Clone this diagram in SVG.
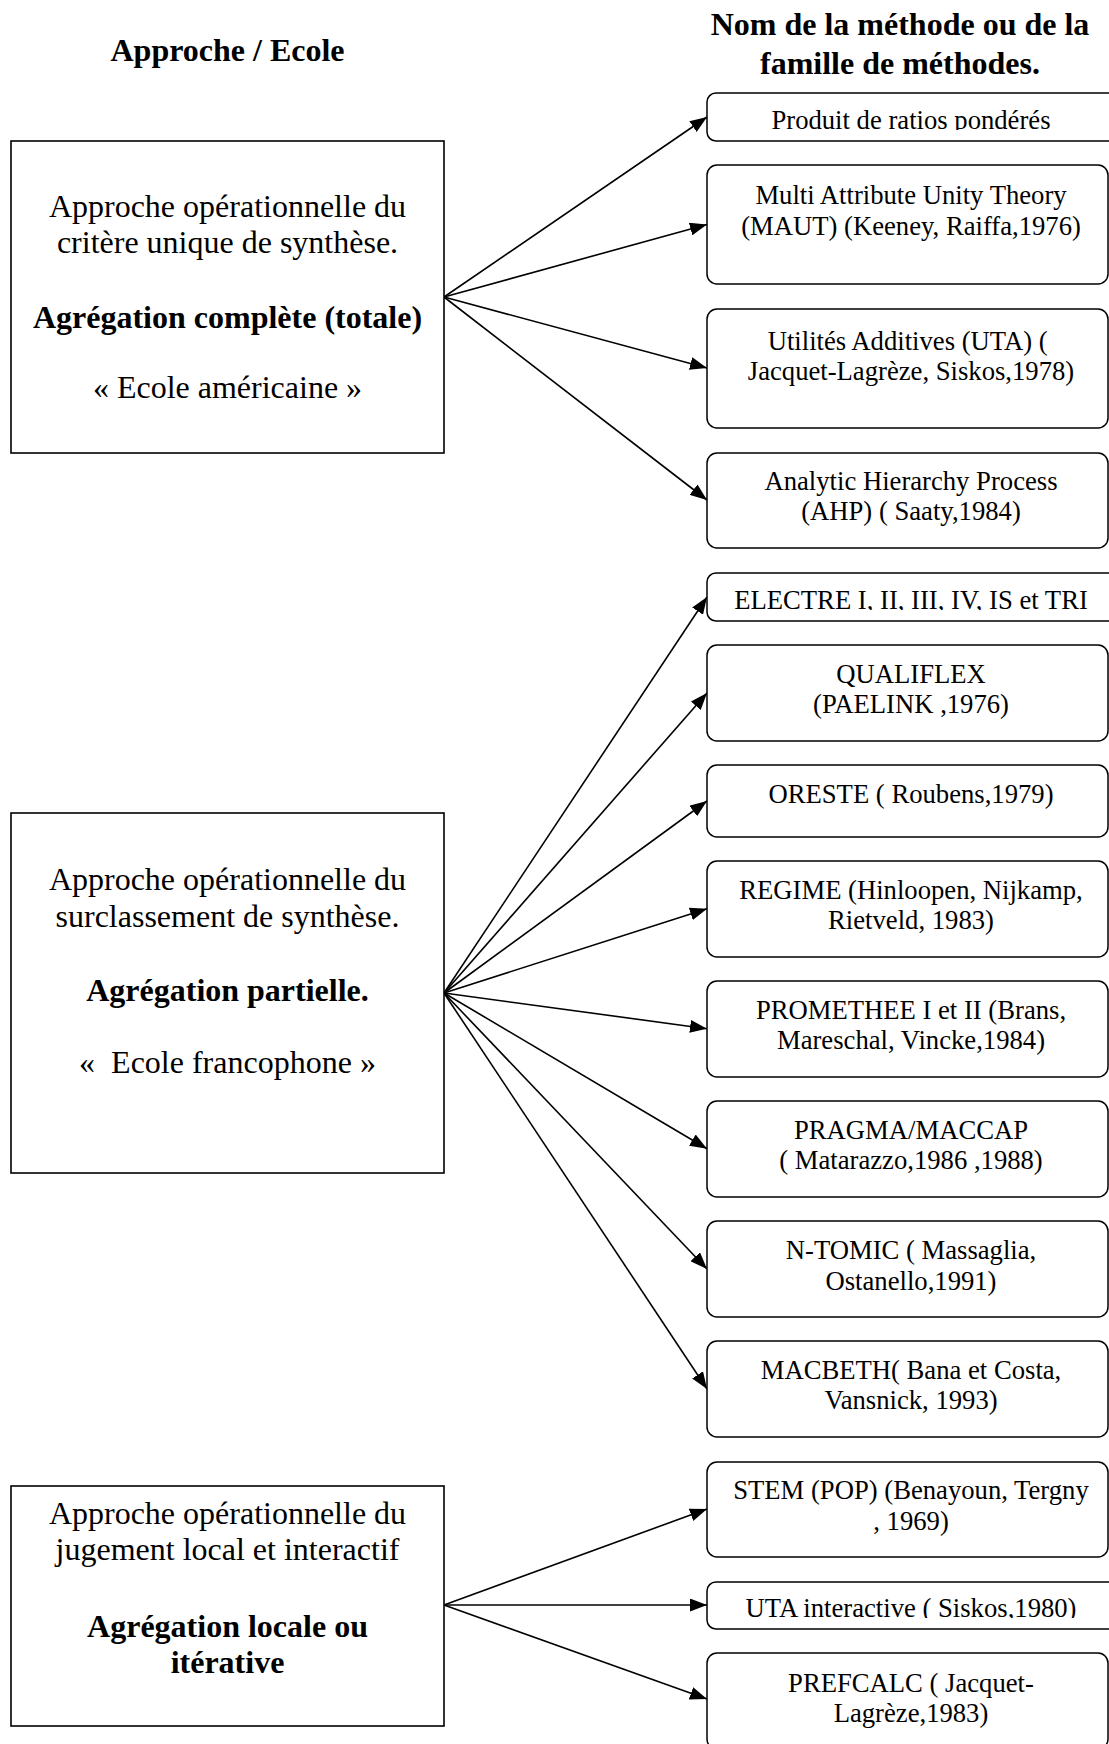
<svg xmlns="http://www.w3.org/2000/svg" width="1109" height="1744" viewBox="0 0 1109 1744">
<style>
text{font-family:"Liberation Serif","Times New Roman",serif;fill:#000;text-anchor:middle}
.h{font-size:32px;font-weight:bold}
.l{font-size:32px}
.lb{font-size:32px;font-weight:bold}
.r{font-size:26.67px}
.lbox{fill:#fff;stroke:#000;stroke-width:1.6}
.rbox{fill:#fff;stroke:#000;stroke-width:1.5}
.c line{stroke:#000;stroke-width:1.6;marker-end:url(#ah)}
</style>
<defs>
<marker id="ah" markerUnits="userSpaceOnUse" markerWidth="17" markerHeight="13" refX="17" refY="6.5" orient="auto">
<path d="M0,0 L17,6.5 L0,13 z" fill="#000"/>
</marker>
<clipPath id="cp1"><rect x="700" y="85" width="420" height="45"/></clipPath>
<clipPath id="cp5"><rect x="700" y="565" width="420" height="45"/></clipPath>
<clipPath id="cp14"><rect x="700" y="1575" width="420" height="43"/></clipPath>
</defs>
<rect width="1109" height="1744" fill="#fff"/>

<g id="headers">
<text class="h" x="227.5" y="61">Approche / Ecole</text>
<text class="h" x="900" y="35">Nom de la méthode ou de la</text>
<text class="h" x="900" y="74">famille de méthodes.</text>
</g>

<g class="c" id="connectors">
<line x1="444" y1="297" x2="707" y2="117"/>
<line x1="444" y1="297" x2="707" y2="224.5"/>
<line x1="444" y1="297" x2="707" y2="368"/>
<line x1="444" y1="297" x2="707" y2="500"/>
<line x1="444" y1="993" x2="707" y2="597"/>
<line x1="444" y1="993" x2="707" y2="693"/>
<line x1="444" y1="993" x2="707" y2="801"/>
<line x1="444" y1="993" x2="707" y2="908.7"/>
<line x1="444" y1="993" x2="707" y2="1028.7"/>
<line x1="444" y1="993" x2="707" y2="1148.7"/>
<line x1="444" y1="993" x2="707" y2="1269"/>
<line x1="444" y1="993" x2="707" y2="1389"/>
<line x1="444" y1="1605" x2="707" y2="1509"/>
<line x1="444" y1="1605" x2="707" y2="1605"/>
<line x1="444" y1="1605" x2="707" y2="1699"/>
</g>

<g id="left1">
<rect class="lbox" x="11" y="141" width="433" height="312"/>
<text class="l" x="227.5" y="217">Approche opérationnelle du</text>
<text class="l" x="227.5" y="253">critère unique de synthèse.</text>
<text class="lb" x="227.5" y="328">Agrégation complète (totale)</text>
<text class="l" x="227.5" y="398">« Ecole américaine »</text>
</g>

<g id="left2">
<rect class="lbox" x="11" y="813" width="433" height="360"/>
<text class="l" x="227.5" y="890">Approche opérationnelle du</text>
<text class="l" x="227.5" y="927">surclassement de synthèse.</text>
<text class="lb" x="227.5" y="1001">Agrégation partielle.</text>
<text class="l" x="227.5" y="1073" xml:space="preserve">«  Ecole francophone »</text>
</g>

<g id="left3">
<rect class="lbox" x="11" y="1486" width="433" height="240"/>
<text class="l" x="227.5" y="1524">Approche opérationnelle du</text>
<text class="l" x="227.5" y="1560">jugement local et interactif</text>
<text class="lb" x="227.5" y="1637">Agrégation locale ou</text>
<text class="lb" x="227.5" y="1673">itérative</text>
</g>

<g id="m1">
<rect class="rbox" x="707" y="93" width="410" height="48" rx="9"/>
<text class="r" x="911" y="129" clip-path="url(#cp1)">Produit de ratios pondérés</text>
</g>
<g id="m2">
<rect class="rbox" x="707" y="165" width="401" height="119" rx="10"/>
<text class="r" x="911" y="204">Multi Attribute Unity Theory</text>
<text class="r" x="911" y="235">(MAUT) (Keeney, Raiffa,1976)</text>
</g>
<g id="m3">
<rect class="rbox" x="707" y="309" width="401" height="119" rx="10"/>
<text class="r" x="911" y="350" xml:space="preserve">Utilités Additives (UTA) ( </text>
<text class="r" x="911" y="380">Jacquet-Lagrèze, Siskos,1978)</text>
</g>
<g id="m4">
<rect class="rbox" x="707" y="453" width="401" height="95" rx="10"/>
<text class="r" x="911" y="490">Analytic Hierarchy Process</text>
<text class="r" x="911" y="520">(AHP) ( Saaty,1984)</text>
</g>
<g id="m5">
<rect class="rbox" x="707" y="573" width="410" height="48" rx="9"/>
<text class="r" x="911" y="609" clip-path="url(#cp5)">ELECTRE I, II, III, IV, IS et TRI</text>
</g>
<g id="m6">
<rect class="rbox" x="707" y="645" width="401" height="96" rx="10"/>
<text class="r" x="911" y="683">QUALIFLEX</text>
<text class="r" x="911" y="713">(PAELINK ,1976)</text>
</g>
<g id="m7">
<rect class="rbox" x="707" y="765" width="401" height="72" rx="10"/>
<text class="r" x="911" y="803">ORESTE ( Roubens,1979)</text>
</g>
<g id="m8">
<rect class="rbox" x="707" y="861" width="401" height="96" rx="10"/>
<text class="r" x="911" y="899">REGIME (Hinloopen, Nijkamp,</text>
<text class="r" x="911" y="929">Rietveld, 1983)</text>
</g>
<g id="m9">
<rect class="rbox" x="707" y="981" width="401" height="96" rx="10"/>
<text class="r" x="911" y="1019">PROMETHEE I et II (Brans,</text>
<text class="r" x="911" y="1049">Mareschal, Vincke,1984)</text>
</g>
<g id="m10">
<rect class="rbox" x="707" y="1101" width="401" height="96" rx="10"/>
<text class="r" x="911" y="1139">PRAGMA/MACCAP</text>
<text class="r" x="911" y="1169">( Matarazzo,1986 ,1988)</text>
</g>
<g id="m11">
<rect class="rbox" x="707" y="1221" width="401" height="96" rx="10"/>
<text class="r" x="911" y="1259">N-TOMIC ( Massaglia,</text>
<text class="r" x="911" y="1290">Ostanello,1991)</text>
</g>
<g id="m12">
<rect class="rbox" x="707" y="1341" width="401" height="96" rx="10"/>
<text class="r" x="911" y="1379">MACBETH( Bana et Costa,</text>
<text class="r" x="911" y="1409">Vansnick, 1993)</text>
</g>
<g id="m13">
<rect class="rbox" x="707" y="1462" width="401" height="95" rx="10"/>
<text class="r" x="911" y="1499">STEM (POP) (Benayoun, Tergny</text>
<text class="r" x="911" y="1530">, 1969)</text>
</g>
<g id="m14">
<rect class="rbox" x="707" y="1582" width="410" height="47" rx="9"/>
<text class="r" x="911" y="1617" clip-path="url(#cp14)">UTA interactive ( Siskos,1980)</text>
</g>
<g id="m15">
<rect class="rbox" x="707" y="1653" width="401" height="96" rx="10"/>
<text class="r" x="911" y="1692">PREFCALC ( Jacquet-</text>
<text class="r" x="911" y="1722">Lagrèze,1983)</text>
</g>
</svg>
